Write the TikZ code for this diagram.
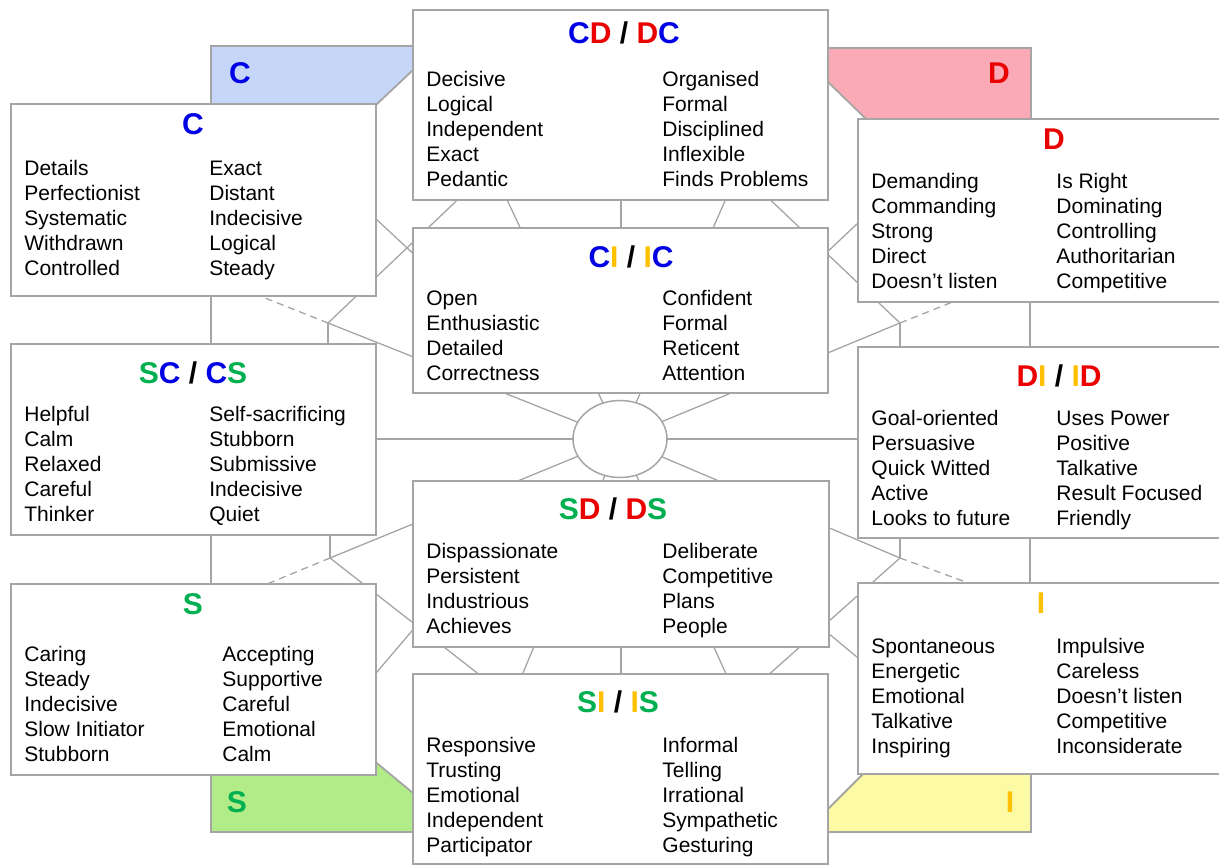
\documentclass[tikz,border=0pt]{standalone}
\usepackage{fontspec}
\setmainfont{Liberation Sans}
\usetikzlibrary{fit}
\usetikzlibrary{shapes.geometric}

\definecolor{linegray}{RGB}{165,165,165}
\definecolor{discblue}{RGB}{0,0,230}
\definecolor{discred}{RGB}{235,0,0}
\definecolor{discgreen}{RGB}{0,176,80}
\definecolor{discgold}{RGB}{255,192,0}
\definecolor{tabblue}{RGB}{198,214,248}
\definecolor{tabred}{RGB}{250,170,182}
\definecolor{tabgreen}{RGB}{178,236,136}
\definecolor{tabyellow}{RGB}{252,250,164}

\newcommand{\discC}{\textcolor{discblue}{C}}
\newcommand{\discD}{\textcolor{discred}{D}}
\newcommand{\discS}{\textcolor{discgreen}{S}}
\newcommand{\discI}{\textcolor{discgold}{I}}

% one column of words: name, x, centre of first row, words
\newcommand{\wordcol}[4]{%
  \foreach \w [count=\i from 1] in {#4}
    \node[word] (#1\i) at (#2,{#3+7.5+25*(\i-1)}) {\w};}

\begin{document}
\begin{tikzpicture}[x=0.5pt,y=-0.5pt,
  word/.style={anchor=base west,inner sep=0pt,font=\fontsize{10.5}{12.5}\selectfont},
  ttl/.style={anchor=base,inner sep=0pt,font=\bfseries\fontsize{15}{18}\selectfont},
  card/.style={draw=linegray,fill=white,line width=0.75pt,inner sep=0pt},
  web/.style={draw=linegray,line width=0.65pt},
  webdash/.style={web,dash pattern=on 3.5pt off 2.5pt},
  tab/.style={draw=linegray,line width=0.9pt}]

  \clip (0,0) rectangle (1219,865);

  % web behind the cards
  \coordinate (hubc) at (620,439);
  \coordinate (nUL) at (328,323);
  \coordinate (nUR) at (900,323);
  \coordinate (nLL) at (330,558);
  \coordinate (nLR) at (900,558);

  \draw[web] (211,46) -- (211,832);
  \draw[web] (1030,48) -- (1030,832);
  \draw[web] (200,439) -- (1040,439);

  \draw[web] (hubc) -- (nUL);
  \draw[web] (hubc) -- (nUR);
  \draw[web] (hubc) -- (nLL);
  \draw[web] (hubc) -- (nLR);
  \draw[web] (hubc) -- (500,185);
  \draw[web] (hubc) -- (732,185);
  \draw[web] (hubc) -- (518,685);
  \draw[web] (hubc) -- (731,685);
  \draw[web] (621,195) -- (621,233);
  \draw[web] (621,642) -- (621,680);

  \draw[web] (nUL) -- (470,188);
  \draw[web] (nUR) -- (760,190);
  \draw[web] (nLL) -- (490,683);
  \draw[web] (nLR) -- (757,685);
  \draw[web] (360,204) -- (450,288);
  \draw[web] (875,207) -- (790,287);
  \draw[web] (365,686) -- (440,598);
  \draw[web] (805,614) -- (875,672);

  \draw[web] (nUL) -- (328,350);
  \draw[web] (nLL) -- (330,530);
  \draw[web] (nUR) -- (900,352);
  \draw[web] (nLR) -- (900,533);

  \draw[webdash] (nUL) -- (250,292);
  \draw[webdash] (nLL) -- (255,589);
  \draw[webdash] (nUR) -- (965,297);
  \draw[webdash] (nLR) -- (985,589);

  % corner tabs
  \draw[tab,fill=tabblue] (211,46) -- (413,46) -- (413,70) -- (377,104) -- (211,104) -- cycle;
  \draw[tab,fill=tabred] (828,48) -- (1031,48) -- (1031,119) -- (866,119) -- (828,82) -- cycle;
  \draw[tab,fill=tabgreen] (211,832) -- (413,832) -- (413,793) -- (361,750) -- (211,750) -- cycle;
  \draw[tab,fill=tabyellow] (828,832) -- (1031,832) -- (1031,760) -- (877,760) -- (828,809) -- cycle;

  \node[ttl] (tabC) at (240,83.7) {\discC};
  \node[ttl] (tabD) at (999,83.7) {\discD};
  \node[ttl] (tabS) at (237,812.7) {\discS};
  \node[ttl] (tabI) at (1010,812.7) {\discI};

  \node[ellipse,draw=linegray,fill=white,line width=0.75pt,
        minimum width=47pt,minimum height=38.5pt,inner sep=0pt] (hub) at (hubc) {};

  % cards
  \node[card,fit={(413,10) (828,200)}] (cd) {};
  \node[card,fit={(413,228) (828,393)}] (ci) {};
  \node[card,fit={(413,481) (829,647)}] (sd) {};
  \node[card,fit={(413,674) (828,864)}] (si) {};
  \node[card,fit={(11,104) (376,296)}] (c) {};
  \node[card,fit={(11,344) (376,535)}] (sc) {};
  \node[card,fit={(11,584) (376,775)}] (s) {};
  \node[card,fit={(858,119) (1240,302)}] (d) {};
  \node[card,fit={(858,347) (1240,538)}] (di) {};
  \node[card,fit={(858,583) (1240,774)}] (i) {};

  % titles
  \node[ttl] (cdT) at (624,43.7) {\discC\discD{} / \discD\discC};
  \node[ttl] (ciT) at (631,267.7) {\discC\discI{} / \discI\discC};
  \node[ttl] (sdT) at (613,519.7) {\discS\discD{} / \discD\discS};
  \node[ttl] (siT) at (618,712.7) {\discS\discI{} / \discI\discS};
  \node[ttl] (cT) at (193,134.7) {\discC};
  \node[ttl] (scT) at (193,383.7) {\discS\discC{} / \discC\discS};
  \node[ttl] (sT) at (193,614.7) {\discS};
  \node[ttl] (dT) at (1054,149.7) {\discD};
  \node[ttl] (diT) at (1059,386.7) {\discD\discI{} / \discI\discD};
  \node[ttl] (iT) at (1041,613.7) {\discI};

  % words
  \wordcol{cdL}{426}{79}{Decisive,Logical,Independent,Exact,Pedantic}
  \wordcol{cdR}{662}{79}{Organised,Formal,Disciplined,Inflexible,Finds Problems}
  \wordcol{ciL}{426}{298}{Open,Enthusiastic,Detailed,Correctness}
  \wordcol{ciR}{662}{298}{Confident,Formal,Reticent,Attention}
  \wordcol{sdL}{426}{551}{Dispassionate,Persistent,Industrious,Achieves}
  \wordcol{sdR}{662}{551}{Deliberate,Competitive,Plans,People}
  \wordcol{siL}{426}{745}{Responsive,Trusting,Emotional,Independent,Participator}
  \wordcol{siR}{662}{745}{Informal,Telling,Irrational,Sympathetic,Gesturing}
  \wordcol{cL}{24}{168}{Details,Perfectionist,Systematic,Withdrawn,Controlled}
  \wordcol{cR}{209}{168}{Exact,Distant,Indecisive,Logical,Steady}
  \wordcol{scL}{24}{414}{Helpful,Calm,Relaxed,Careful,Thinker}
  \wordcol{scR}{209}{414}{Self-sacrificing,Stubborn,Submissive,Indecisive,Quiet}
  \wordcol{sL}{24}{654}{Caring,Steady,Indecisive,Slow Initiator,Stubborn}
  \wordcol{sR}{222}{654}{Accepting,Supportive,Careful,Emotional,Calm}
  \wordcol{dL}{871}{181}{Demanding,Commanding,Strong,Direct,Doesn’t listen}
  \wordcol{dR}{1056}{181}{Is Right,Dominating,Controlling,Authoritarian,Competitive}
  \wordcol{diL}{871}{418}{Goal-oriented,Persuasive,Quick Witted,Active,Looks to future}
  \wordcol{diR}{1056}{418}{Uses Power,Positive,Talkative,Result Focused,Friendly}
  \wordcol{iL}{871}{646}{Spontaneous,Energetic,Emotional,Talkative,Inspiring}
  \wordcol{iR}{1056}{646}{Impulsive,Careless,Doesn’t listen,Competitive,Inconsiderate}
\end{tikzpicture}
\end{document}
